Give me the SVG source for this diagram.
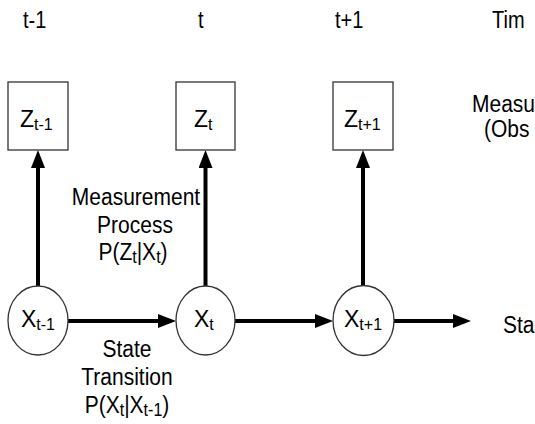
<svg xmlns="http://www.w3.org/2000/svg" width="535" height="424" viewBox="0 0 535 424">
  <style>
    text { font-family: "Liberation Sans", Arial, sans-serif; fill: #000; }
    .lbl { font-size: 21px; }
    .top { font-size: 20px; }
    .node { font-size: 23px; }
    .sub { font-size: 16px; }
    .box { fill: #fff; stroke: #333; stroke-width: 1.3; }
    .circ { fill: #fff; stroke: #333; stroke-width: 1.3; }
    .edge { stroke: #000; stroke-width: 4; fill: none; marker-end: url(#arrow); }
  </style>
  <defs>
    <marker id="arrow" markerUnits="userSpaceOnUse" markerWidth="20" markerHeight="16" refX="8" refY="7" orient="auto">
      <path d="M0,0 L18,7 L0,14 z" fill="#000"/>
    </marker>
  </defs>
  <rect width="535" height="424" fill="#fff"/>

  <g id="time-labels">
    <text class="top" transform="translate(23,28) scale(1,1.22)">t-1</text>
    <text class="top" transform="translate(198,28) scale(1,1.22)">t</text>
    <text class="top" transform="translate(335,28) scale(1,1.22)">t+1</text>
    <text class="top" transform="translate(492,28) scale(1,1.22)">Tim</text>
  </g>

  <g id="connectors">
    <line class="edge" x1="38" y1="286" x2="38" y2="160"/>
    <line class="edge" x1="205.5" y1="286" x2="205.5" y2="160"/>
    <line class="edge" x1="363" y1="286" x2="363" y2="160"/>
    <line class="edge" x1="68" y1="321" x2="166" y2="321"/>
    <line class="edge" x1="235" y1="321" x2="323" y2="321"/>
    <line class="edge" x1="394" y1="321" x2="461" y2="321"/>
  </g>

  <g id="z-prev">
    <rect class="box" x="8" y="82" width="60" height="68"/>
    <text class="node" x="20" y="127">Z<tspan class="sub" dy="3">t-1</tspan></text>
  </g>
  <g id="z-cur">
    <rect class="box" x="176" y="82" width="59" height="68"/>
    <text class="node" x="194" y="127">Z<tspan class="sub" dy="3">t</tspan></text>
  </g>
  <g id="z-next">
    <rect class="box" x="333" y="82" width="60" height="68"/>
    <text class="node" x="344" y="127">Z<tspan class="sub" dy="3">t+1</tspan></text>
  </g>

  <g id="x-prev">
    <ellipse class="circ" cx="38" cy="320.5" rx="30" ry="34.5"/>
    <text class="node" x="21" y="327">X<tspan class="sub" dy="3">t-1</tspan></text>
  </g>
  <g id="x-cur">
    <ellipse class="circ" cx="205.5" cy="320.5" rx="29.5" ry="34.5"/>
    <text class="node" x="194" y="327">X<tspan class="sub" dy="3">t</tspan></text>
  </g>
  <g id="x-next">
    <ellipse class="circ" cx="363.5" cy="320.5" rx="30.5" ry="35"/>
    <text class="node" x="344" y="327">X<tspan class="sub" dy="3">t+1</tspan></text>
  </g>

  <g id="measurement-label">
    <text class="lbl" transform="translate(136,205) scale(1,1.1)" text-anchor="middle">Measurement</text>
    <text class="lbl" transform="translate(135,233) scale(1,1.1)" text-anchor="middle">Process</text>
    <text class="lbl" transform="translate(133,260) scale(1,1.1)" text-anchor="middle">P(Z<tspan class="sub" dy="3">t</tspan><tspan dy="-3">|X</tspan><tspan class="sub" dy="3">t</tspan><tspan dy="-3">)</tspan></text>
  </g>

  <g id="transition-label">
    <text class="lbl" transform="translate(127,357) scale(1,1.1)" text-anchor="middle">State</text>
    <text class="lbl" transform="translate(127,385) scale(1,1.1)" text-anchor="middle">Transition</text>
    <text class="lbl" transform="translate(127,413) scale(1,1.1)" text-anchor="middle">P(X<tspan class="sub" dy="3">t</tspan><tspan dy="-3">|X</tspan><tspan class="sub" dy="3">t-1</tspan><tspan dy="-3">)</tspan></text>
  </g>

  <g id="side-labels">
    <text class="lbl" transform="translate(472,112) scale(1,1.1)">Measu</text>
    <text class="lbl" transform="translate(484,137) scale(1,1.1)">(Obs</text>
    <text class="lbl" transform="translate(503,333) scale(1,1.1)">Sta</text>
  </g>
</svg>
